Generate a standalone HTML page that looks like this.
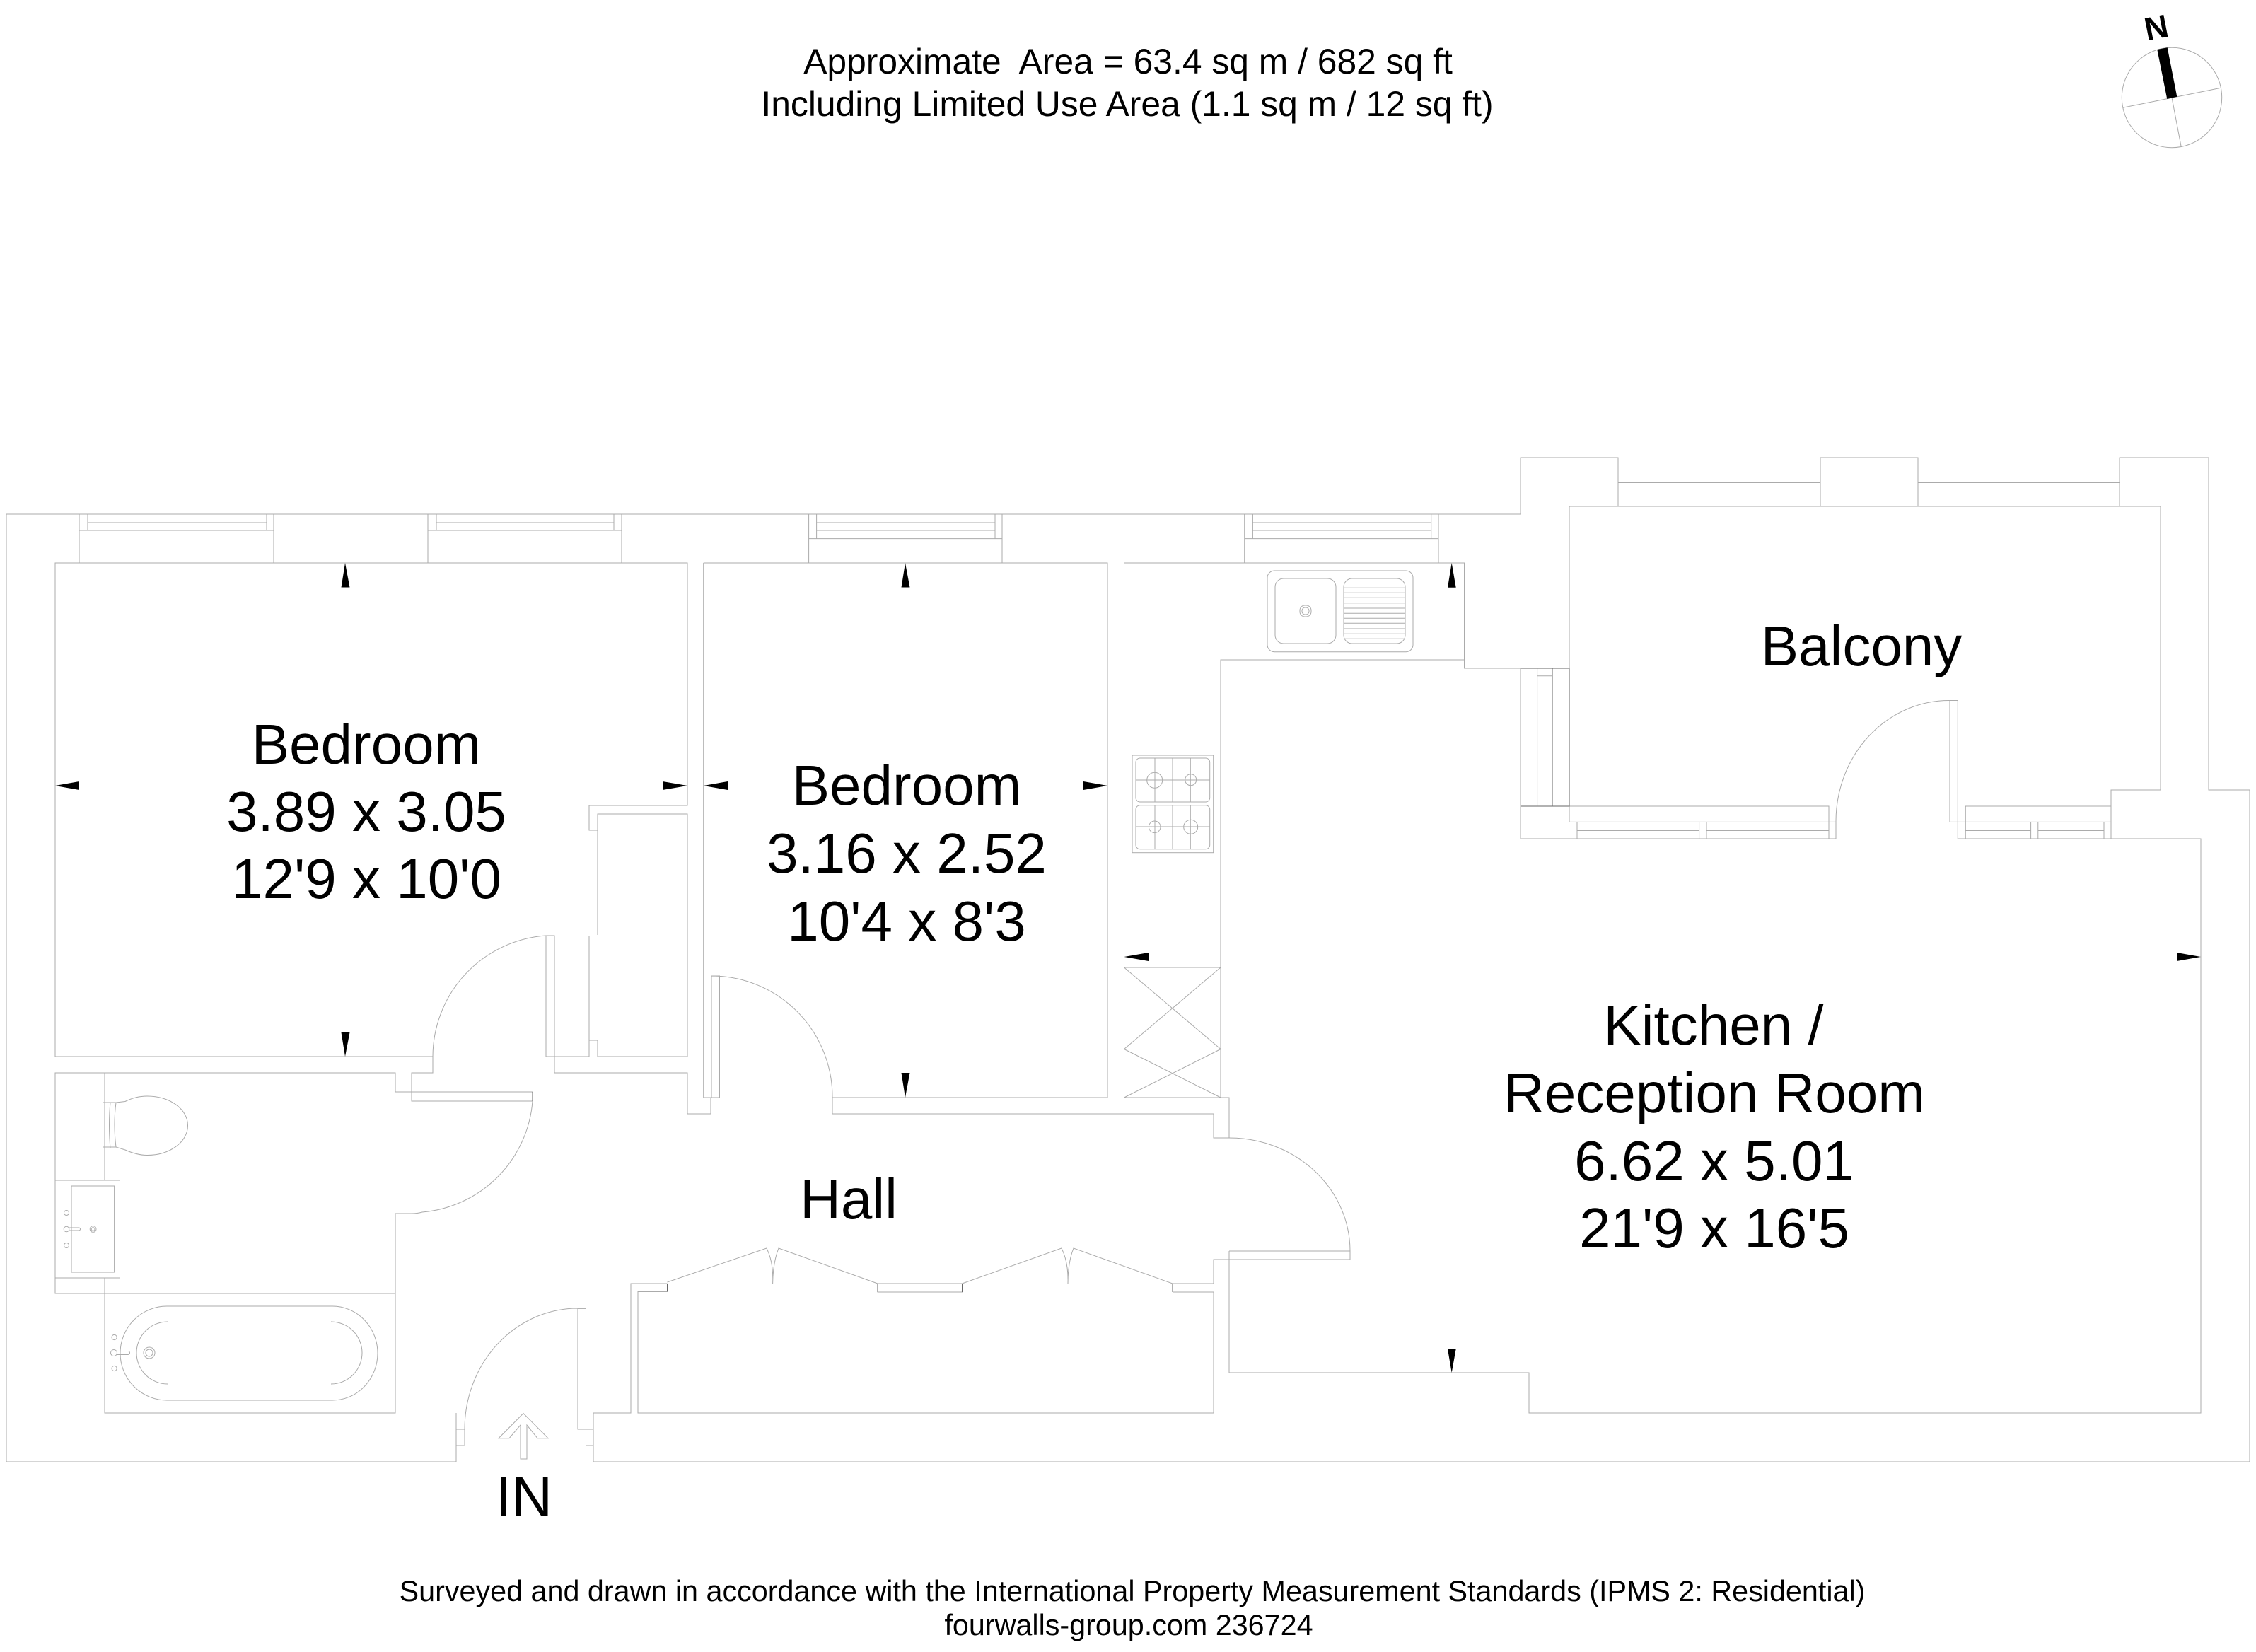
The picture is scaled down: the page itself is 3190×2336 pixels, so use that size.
<!DOCTYPE html>
<html><head><meta charset="utf-8"><title>Floor plan</title>
<style>
html,body{margin:0;padding:0;background:#fff}
svg{display:block}
.l{fill:none;stroke:#ababab;stroke-width:1}
.d{fill:none;stroke:#666;stroke-width:1}
.k{fill:#000;stroke:none}
text{font-family:"Liberation Sans",Arial,sans-serif;fill:#000;text-anchor:middle}
.r{font-size:80px}
.h{font-size:49.8px}
.f{font-size:41.3px}
</style></head><body>
<svg xmlns="http://www.w3.org/2000/svg" width="3190" height="2336" viewBox="0 0 3190 2336">
<rect width="3190" height="2336" fill="#fff"/>
<g class="l">
<!-- outer walls -->
<path d="M645 1998V2067H9V727H2150V647H2288V716"/>
<path d="M839 1998V2067H3181V1117H3123V647H2997V716"/>
<path d="M2997 682.5H2712V647H2574V716M2574 682.5H2288M2712 647V716"/>
<!-- balcony -->
<path d="M2219 1162V716H3055V1117H2985V1186H3112V1998H2162V1941H1738V1769"/>
<path d="M2070.5 796V945H2219"/>
<path d="M2150 945V1186H2596"/>
<path d="M2219 1140H2586V1186M2219 1162.4H2596V1186M2230 1162.4V1186M2402.6 1162.4V1186M2413 1162.4V1186M2230 1174.5H2402.6M2413 1174.5H2586"/>
<path d="M2173.6 945V1140M2195.4 945V1140M2184.5 955.7V1128.5M2173.6 955.7H2195.4M2173.6 1128.5H2195.4"/>
<path d="M2596 1162A160 171 0 0 1 2757 990.5H2768.3V1186H2985M2757 990.5V1162.4H2985"/>
<path d="M2779.3 1186V1140H2985M2871.6 1162.4V1186M2881.8 1162.4V1186M2975 1162.4V1186M2779.3 1174.5H2871.6M2881.8 1174.5H2975"/>
<!-- bedroom 1 -->
<path d="M612 1494H78V796H972V1139H833V1174H845V1151H972V1494H845V1471H833V1494H772V1323H784V1517H972V1575H1005V1552"/>
<path d="M845 1174V1322M833 1323V1471"/>
<path d="M784 1323H772A172 172 0 0 0 612 1494V1517H582V1557H753V1544H559V1517H78V1829H559V1716H582"/>
<!-- bedroom 2 -->
<path d="M994.7 796V1552H1017.5V1380H1006V1552M1006 1380A171 171 0 0 1 1177 1552"/>
<path d="M994.7 796H1566V1552H1177V1575H1716V1609H1738M1177 1552V1575"/>
<!-- kitchen top -->
<path d="M1589.5 1552V796H2070.5V933H1726V1552H1589.5"/>
<path d="M1589.5 1368H1726M1589.5 1483.5H1726M1589.5 1368L1726 1483.5M1726 1368L1589.5 1483.5M1589.5 1483.5L1726 1552M1726 1483.5L1589.5 1552"/>
<path d="M1726 1552H1738V1609M1716 1575V1609"/>
<!-- kitchen door -->
<path d="M1738 1609A171 160 0 0 1 1909 1769V1781H1716V1815H1658M1738 1769H1909M1738 1769V1781"/>
<path d="M1658 1827H1716V1998H902V1826.5H943.5M943.5 1815H892V1998H839"/>
<!-- wardrobe doors -->
<path d="M943.5 1813L1084 1765Q1094 1785 1092.6 1815Q1093 1785 1101 1765L1241 1815"/>
<path d="M1360.5 1815L1501 1765Q1511 1785 1510 1815Q1510 1785 1518 1765L1658 1815"/>
<rect x="1241" y="1815" width="119.5" height="12"/>
<!-- hall door / entrance -->
<path d="M753 1557H582M753 1557A171 171 0 0 1 597 1714Q590 1716 582 1716"/>
<path d="M657 2021A160 171 0 0 1 817 1850H828.5V2021H817V1850"/>
<rect x="645" y="2021" width="12" height="23"/>
<rect x="828.5" y="2021" width="10.5" height="23"/>
<polygon points="740,1998.5 775,2033.7 760,2033.7 745,2015 745,2063 736,2063 736,2015 720,2033.7 705,2033.7"/>
<!-- windows 1,2 -->
<path d="M112 727V796H387V727M112 750H387M124 727V750M377 727V750M124 739H377"/>
<path d="M605 727V796H879V727M605 750H879M617 727V750M868 727V750M617 739H868"/>
<!-- windows 3,4 -->
<path d="M1143.6 727V796H1417V727M1143.6 761.6H1417M1154.6 727V761.6M1407 727V761.6M1154.6 739H1407M1154.6 750H1407"/>
<path d="M1759.7 727V796H2034V727M1759.7 761.6H2034M1771.4 727V761.6M2023.7 727V761.6M1771.4 739H2023.7M1771.4 750H2023.7"/>
<!-- bath room fixtures -->
<path d="M148 1517V1669M148 1807V1829"/>
<rect x="78" y="1669" width="91.5" height="138"/>
<rect x="101" y="1677" width="60.6" height="122"/>
<circle cx="94" cy="1715" r="3.5"/><circle cx="94" cy="1738" r="3.8"/><circle cx="94" cy="1761" r="3.5"/>
<path d="M97 1736H111.5A2 2 0 0 1 111.5 1740H97"/>
<circle cx="131.6" cy="1738" r="4.4"/><circle cx="131.6" cy="1738" r="2.4"/>
<path d="M146 1559H164L177 1557.5C186 1553 196 1550 208 1550C240 1550 265.5 1568 265.5 1591.5C265.5 1615 240 1633.5 208 1633.5C196 1633.5 186 1630 177 1626L164 1622H146M156 1559Q153 1590 156 1624M164 1559Q160 1590 164 1622"/>
<!-- bath -->
<rect x="148" y="1829" width="411" height="169"/>
<path d="M236 1847H470A64 66.5 0 0 1 470 1980H236A66 66.5 0 0 1 236 1847Z"/>
<path d="M237 1869A44 44 0 0 0 237 1957M468 1869A44 44 0 0 1 468 1957"/>
<circle cx="161.6" cy="1891" r="3.6"/><circle cx="161" cy="1913" r="4.5"/><circle cx="161.6" cy="1935" r="3.6"/>
<path d="M165 1910.5H181A2.5 2.5 0 0 1 181 1915.5H165"/>
<circle cx="211" cy="1913" r="8"/><circle cx="211" cy="1913" r="5"/>
<!-- sink -->
<rect x="1792" y="807" width="206" height="114.7" rx="10"/>
<rect x="1803" y="818" width="86" height="92" rx="12"/>
<rect x="1900" y="818" width="87" height="92" rx="12"/>
<path d="M1900 831.3H1987M1900 838.3H1987M1900 845.3H1987M1900 852.7H1987M1900 860H1987M1900 867.3H1987M1900 874.3H1987M1900 881.3H1987M1900 889H1987M1900 896.3H1987M1900 903.3H1987"/>
<rect x="1838" y="856" width="16" height="16" rx="7"/>
<rect x="1841" y="859" width="10" height="10" rx="4.5"/>
<!-- hob -->
<rect x="1601" y="1068" width="114.7" height="137.7"/>
<rect x="1606" y="1072" width="104.7" height="62" rx="6"/>
<rect x="1606" y="1138.7" width="104.7" height="62" rx="6"/>
<path d="M1633 1072V1134M1658 1072V1134M1683.3 1072V1134M1606 1103H1710.7M1633 1138.7V1200.7M1658 1138.7V1200.7M1683.3 1138.7V1200.7M1606 1169H1710.7"/>
<circle cx="1632.7" cy="1103.3" r="11"/><circle cx="1683.7" cy="1102.7" r="8"/><circle cx="1632.7" cy="1169.3" r="8.3"/><circle cx="1683.7" cy="1169.3" r="10"/>
<!-- compass -->
<circle cx="3071" cy="138" r="70.7"/>
<path d="M3001.7 152.3L3140.3 124.3M3071 138L3084.3 208"/>
</g>
<g class="d">
<path d="M2150 945H2219V1140H2150M943.5 1815V1826.5M1241 1815V1827M1360.5 1815V1827M1658 1815V1827M753 1544V1557M817 1850H828.5"/>
</g>
<g class="k">
<polygon points="488,796 482.5,830.5 494.5,830.5"/>
<polygon points="78,1111 112,1105 112,1117"/>
<polygon points="972,1111 937,1105 937,1117"/>
<polygon points="994.7,1111 1029,1105 1029,1117"/>
<polygon points="488,1494 482.5,1460 494.5,1460"/>
<polygon points="1280,796 1274.5,830.5 1286.5,830.5"/>
<polygon points="1566,1111 1532,1105 1532,1117"/>
<polygon points="1280,1552 1274.5,1517 1286.5,1517"/>
<polygon points="1589.5,1353 1624,1347 1624,1359"/>
<polygon points="2052.7,796 2047,830.7 2058.7,830.7"/>
<polygon points="2052.7,1941 2047,1907.5 2058.7,1907.5"/>
<polygon points="3112,1353 3078,1347 3078,1359"/>
<polygon points="3050.3,70 3064.7,67.3 3078.3,136.7 3064.3,140"/>
</g>
<text class="h" x="1595" y="104" xml:space="preserve">Approximate  Area = 63.4 sq m / 682 sq ft</text>
<text class="h" x="1594" y="164">Including Limited Use Area (1.1 sq m / 12 sq ft)</text>
<text transform="translate(3052 54.5) rotate(-11)" font-size="46" font-weight="700">N</text>
<text class="r" x="518" y="1080">Bedroom</text>
<text class="r" x="518" y="1175">3.89 x 3.05</text>
<text class="r" x="518" y="1270">12'9 x 10'0</text>
<text class="r" x="1282" y="1138">Bedroom</text>
<text class="r" x="1282" y="1234">3.16 x 2.52</text>
<text class="r" x="1282" y="1330">10'4 x 8'3</text>
<text class="r" x="2632" y="941">Balcony</text>
<text class="r" x="2423" y="1477">Kitchen /</text>
<text class="r" x="2424" y="1573">Reception Room</text>
<text class="r" x="2424" y="1669">6.62 x 5.01</text>
<text class="r" x="2424" y="1764">21'9 x 16'5</text>
<text class="r" x="1200" y="1723">Hall</text>
<text class="r" x="741" y="2144">IN</text>
<text class="f" x="1601" y="2264">Surveyed and drawn in accordance with the International Property Measurement Standards (IPMS 2: Residential)</text>
<text class="f" x="1596" y="2312">fourwalls-group.com 236724</text>
</svg>
</body></html>
